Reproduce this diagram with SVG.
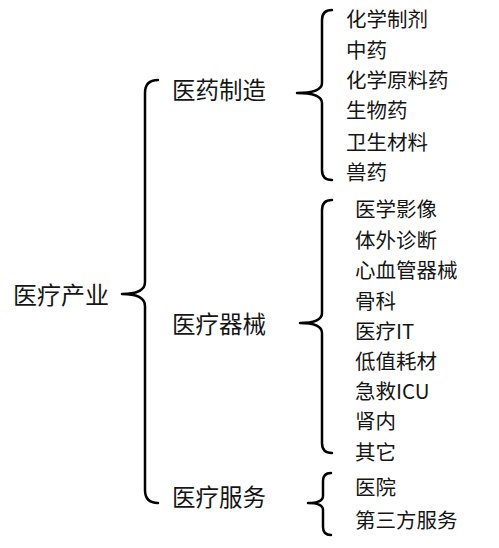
<svg xmlns="http://www.w3.org/2000/svg" width="499" height="548" viewBox="0 0 499 548">
<style>
text{font-family:"Noto Sans CJK SC","Microsoft YaHei",sans-serif;fill:#151515;dominant-baseline:central}
.l1{font-size:24px}
.l2{font-size:23.5px}
.l3{font-size:20.5px}
.brace{fill:none;stroke:#000;stroke-width:2.5;stroke-linecap:round;stroke-linejoin:round}
</style>
<rect width="499" height="548" fill="#fff"/>
<g id="connectors">
<path class="brace" d="M158,80 Q145,80 145,93 L145,282 Q145,294 122,294 Q145,294 145,306 L145,490 Q145,503 158,503"/>
<path class="brace" d="M332,10 Q322,10 322,20 L322,83 Q322,93 297,93 Q322,93 322,103 L322,170 Q322,180 332,180"/>
<path class="brace" d="M332,200 Q322,200 322,210 L322,313 Q322,323 300,323 Q322,323 322,333 L322,443 Q322,453 332,453"/>
<path class="brace" d="M331,473 Q323,473 323,481 L323,496 Q323,503 308,503 Q323,503 323,510 L323,527 Q323,535 331,535"/>
</g>
<g id="root"><text class="l1" x="13" y="293">医疗产业</text></g>
<g id="yyzz"><text class="l2" x="172" y="89">医药制造</text></g>
<g id="ylqx"><text class="l2" x="172" y="323">医疗器械</text></g>
<g id="ylfw"><text class="l2" x="172" y="496">医疗服务</text></g>
<g id="n1"><text class="l3" x="346" y="18">化学制剂</text></g>
<g id="n2"><text class="l3" x="346" y="49">中药</text></g>
<g id="n3"><text class="l3" x="346" y="79">化学原料药</text></g>
<g id="n4"><text class="l3" x="346" y="109">生物药</text></g>
<g id="n5"><text class="l3" x="346" y="141">卫生材料</text></g>
<g id="n6"><text class="l3" x="346" y="171">兽药</text></g>
<g id="m1"><text class="l3" x="355" y="208">医学影像</text></g>
<g id="m2"><text class="l3" x="355" y="239">体外诊断</text></g>
<g id="m3"><text class="l3" x="355" y="269">心血管器械</text></g>
<g id="m4"><text class="l3" x="355" y="300">骨科</text></g>
<g id="m5"><text class="l3" x="355" y="330">医疗IT</text></g>
<g id="m6"><text class="l3" x="355" y="360">低值耗材</text></g>
<g id="m7"><text class="l3" x="355" y="390">急救ICU</text></g>
<g id="m8"><text class="l3" x="355" y="420">肾内</text></g>
<g id="m9"><text class="l3" x="355" y="451">其它</text></g>
<g id="s1"><text class="l3" x="355" y="486">医院</text></g>
<g id="s2"><text class="l3" x="355" y="519">第三方服务</text></g>
</svg>
